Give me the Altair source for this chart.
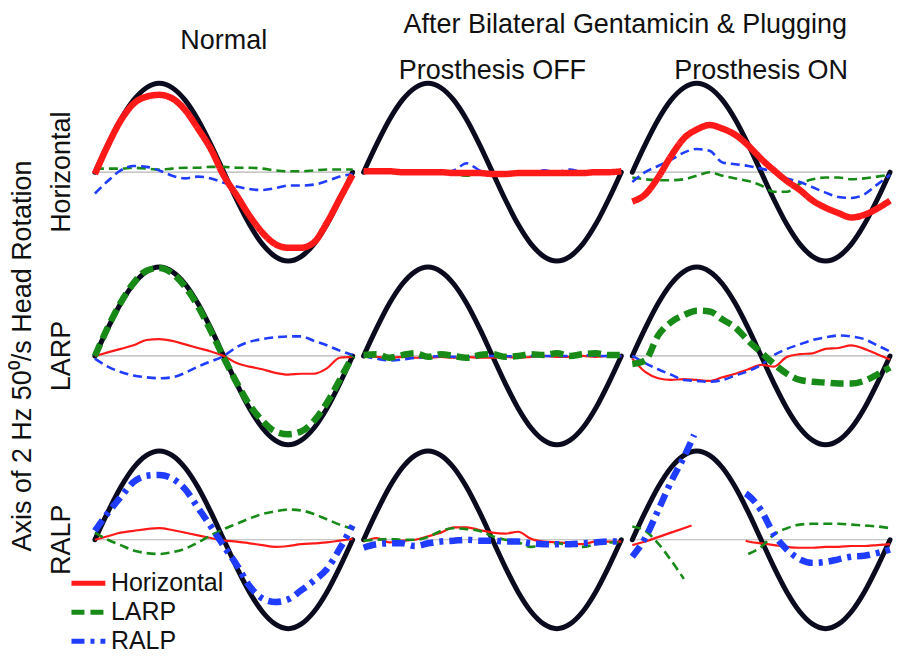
import altair as alt
import pandas as pd

ROWS = ["Horizontal", "LARP", "RALP"]
COLS = ["Normal", "Prosthesis OFF", "Prosthesis ON"]
SERIES = ["Horizontal", "LARP", "RALP"]
COLORS = ["#ff1a1a", "#178a17", "#1f3cff"]

P = [0.0, 0.05, 0.1, 0.15, 0.2, 0.25, 0.3, 0.35, 0.4, 0.45, 0.5,
     0.55, 0.6, 0.65, 0.7, 0.75, 0.8, 0.85, 0.9, 0.95, 1.0]
STIM = [0.0, 0.31, 0.59, 0.81, 0.95, 1.0, 0.95, 0.81, 0.59, 0.31, 0.0,
        -0.31, -0.59, -0.81, -0.95, -1.0, -0.95, -0.81, -0.59, -0.31, 0.0]

# Normal
n_h_red = [-0.02, 0.30, 0.58, 0.77, 0.85, 0.87, 0.83, 0.70, 0.49, 0.26, -0.04,
           -0.26, -0.49, -0.68, -0.81, -0.85, -0.85, -0.79, -0.57, -0.30, -0.03]
n_h_green = [0.04, 0.04, 0.04, 0.05, 0.04, 0.03, 0.04, 0.05, 0.05, 0.06, 0.06,
             0.05, 0.05, 0.04, 0.02, 0.01, 0.01, 0.02, 0.03, 0.03, 0.03]
n_h_blue = [-0.24, -0.10, 0.02, 0.07, 0.06, 0.02, -0.04, -0.07, -0.05, -0.07, -0.12,
            -0.16, -0.19, -0.20, -0.18, -0.15, -0.15, -0.14, -0.10, -0.05, -0.02]
n_l_red = [0.0, 0.04, 0.08, 0.12, 0.18, 0.19, 0.17, 0.13, 0.09, 0.05, 0.0,
           -0.08, -0.12, -0.15, -0.19, -0.21, -0.20, -0.20, -0.14, -0.02, -0.01]
n_l_green = [0.0, 0.32, 0.60, 0.82, 0.96, 0.99, 0.93, 0.78, 0.56, 0.28, -0.02,
             -0.30, -0.55, -0.73, -0.85, -0.88, -0.85, -0.73, -0.53, -0.27, 0.0]
n_l_blue = [-0.03, -0.12, -0.18, -0.22, -0.24, -0.25, -0.24, -0.19, -0.12, -0.06, 0.0,
            0.10, 0.16, 0.19, 0.21, 0.22, 0.22, 0.17, 0.12, 0.06, 0.01]
n_r_red = [0.0, 0.04, 0.08, 0.10, 0.12, 0.13, 0.11, 0.08, 0.05, 0.02, -0.01,
           -0.02, -0.04, -0.06, -0.08, -0.07, -0.05, -0.04, -0.03, -0.01, 0.01]
n_r_green = [0.08, 0.0, -0.06, -0.12, -0.15, -0.16, -0.14, -0.10, -0.03, 0.05, 0.12,
             0.18, 0.24, 0.29, 0.32, 0.34, 0.33, 0.29, 0.23, 0.17, 0.12]
n_r_blue = [0.10, 0.30, 0.48, 0.65, 0.72, 0.73, 0.69, 0.57, 0.36, 0.15, -0.07,
            -0.28, -0.52, -0.66, -0.70, -0.67, -0.57, -0.46, -0.33, -0.10, 0.16]

# Prosthesis OFF
off_h_red = [0.01, 0.01, 0.01, 0.0, 0.0, 0.0, 0.0, -0.01, -0.01, -0.01, -0.02,
             -0.02, -0.01, -0.01, -0.01, -0.01, -0.01, -0.01, 0.0, 0.0, 0.01]
off_h_green = [0.0, 0.01, 0.0, 0.0, 0.0, 0.0, 0.0, -0.02, -0.04, -0.02, -0.02,
               -0.01, -0.01, 0.0, -0.01, -0.02, -0.01, 0.0, -0.01, 0.0, 0.0]
off_h_blue = [0.0, 0.0, 0.0, 0.0, 0.0, 0.0, 0.0, 0.02, 0.10, 0.02, -0.01,
              -0.01, 0.0, 0.0, 0.02, 0.0, 0.03, 0.0, 0.0, 0.01, 0.01]
off_l_red = [0.0, -0.01, -0.02, -0.01, -0.02, -0.02, -0.01, -0.02, -0.01, -0.02, -0.02,
             -0.01, -0.02, -0.01, 0.0, -0.01, -0.01, 0.0, -0.01, 0.0, 0.0]
off_l_green = [0.01, 0.02, -0.02, 0.01, 0.03, -0.01, 0.02, 0.0, -0.02, 0.01, 0.02,
               -0.01, 0.0, 0.02, 0.01, 0.03, 0.0, 0.02, 0.03, 0.01, 0.01]
off_l_blue = [0.0, -0.03, -0.05, -0.04, -0.02, -0.01, 0.0, -0.01, -0.01, 0.0, 0.0,
              0.0, -0.01, 0.0, 0.0, 0.0, 0.0, 0.01, 0.0, 0.0, 0.0]
off_r_red = [-0.02, 0.02, -0.03, -0.01, 0.0, 0.04, 0.08, 0.14, 0.14, 0.11, 0.08,
             0.07, 0.09, 0.01, -0.02, -0.03, -0.04, -0.05, -0.02, -0.02, -0.02]
off_r_green = [-0.01, 0.0, 0.01, 0.0, 0.0, 0.03, 0.10, 0.13, 0.12, 0.10, 0.04,
               0.0, -0.03, -0.08, -0.05, -0.04, -0.06, -0.08, -0.05, -0.03, -0.03]
off_r_blue = [-0.09, -0.05, -0.04, -0.04, -0.07, -0.04, -0.02, -0.01, 0.0, -0.01, -0.01,
              -0.02, -0.02, -0.04, -0.05, -0.05, -0.05, -0.04, -0.03, -0.02, -0.02]

# Prosthesis ON
on_h_red = [-0.33, -0.25, -0.06, 0.18, 0.38, 0.48, 0.53, 0.49, 0.42, 0.30, 0.15,
            0.02, -0.10, -0.20, -0.32, -0.40, -0.46, -0.51, -0.48, -0.41, -0.32]
on_h_green = [-0.06, -0.08, -0.09, -0.09, -0.08, -0.04, 0.0, -0.04, -0.07, -0.10, -0.15,
              -0.22, -0.22, -0.13, -0.08, -0.06, -0.06, -0.08, -0.07, -0.05, -0.03]
on_h_blue = [-0.11, 0.0, 0.07, 0.14, 0.22, 0.26, 0.24, 0.11, 0.09, 0.07, 0.04,
             0.0, -0.07, -0.11, -0.17, -0.23, -0.28, -0.29, -0.25, -0.14, -0.03]
on_l_red = [-0.03, -0.18, -0.25, -0.27, -0.26, -0.27, -0.28, -0.24, -0.20, -0.15, -0.10,
            -0.12, -0.01, 0.02, 0.03, 0.08, 0.09, 0.12, 0.08, 0.02, -0.04]
on_l_green = [-0.09, -0.05, 0.23, 0.38, 0.46, 0.51, 0.50, 0.41, 0.32, 0.17, 0.04,
              -0.09, -0.20, -0.27, -0.29, -0.30, -0.31, -0.31, -0.28, -0.21, -0.13]
on_l_blue = [0.0, -0.08, -0.15, -0.21, -0.27, -0.28, -0.29, -0.27, -0.22, -0.17, -0.10,
             0.01, 0.08, 0.13, 0.18, 0.21, 0.23, 0.22, 0.19, 0.12, 0.05]
# RALP row with prosthesis ON: traces are broken in two pieces
on_r_blue_a_p = [0.0, 0.05, 0.1, 0.15, 0.2, 0.24]
on_r_blue_a = [-0.19, 0.02, 0.33, 0.65, 0.93, 1.18]
on_r_blue_b_p = [0.44, 0.45, 0.5, 0.55, 0.6, 0.65, 0.7, 0.75, 0.8, 0.85, 0.9, 0.95, 1.0]
on_r_blue_b = [0.52, 0.50, 0.33, 0.06, -0.11, -0.22, -0.26, -0.25, -0.22, -0.19, -0.18, -0.15, -0.11]
on_r_red_a_p = [0.0, 0.05, 0.1, 0.15, 0.2, 0.23]
on_r_red_a = [-0.06, -0.02, 0.03, 0.08, 0.13, 0.16]
on_r_red_b_p = [0.44, 0.45, 0.5, 0.55, 0.6, 0.65, 0.7, 0.75, 0.8, 0.85, 0.9, 0.95, 1.0]
on_r_red_b = [-0.01, -0.02, -0.04, -0.06, -0.08, -0.09, -0.09, -0.08, -0.08, -0.07, -0.07, -0.06, -0.05]
on_r_green_a_p = [0.0, 0.05, 0.1, 0.15, 0.2]
on_r_green_a = [0.15, 0.10, -0.04, -0.23, -0.44]
on_r_green_b_p = [0.45, 0.5, 0.55, 0.6, 0.65, 0.7, 0.75, 0.8, 0.85, 0.9, 0.95, 1.0]
on_r_green_b = [-0.16, -0.08, 0.06, 0.13, 0.17, 0.18, 0.18, 0.18, 0.17, 0.16, 0.15, 0.13]

records = []


def add(row, col, series, ps, vs, seg="a"):
    kind = "stim" if series == "Stimulus" else ("thick" if series == row else "thin")
    for p, v in zip(ps, vs):
        records.append({"row": row, "col": col, "series": series, "kind": kind,
                        "seg": seg, "p": p, "v": v})


for r in ROWS:
    for c in COLS:
        add(r, c, "Stimulus", P, STIM)

traces = {
    ("Horizontal", "Normal"): (n_h_red, n_h_green, n_h_blue),
    ("LARP", "Normal"): (n_l_red, n_l_green, n_l_blue),
    ("RALP", "Normal"): (n_r_red, n_r_green, n_r_blue),
    ("Horizontal", "Prosthesis OFF"): (off_h_red, off_h_green, off_h_blue),
    ("LARP", "Prosthesis OFF"): (off_l_red, off_l_green, off_l_blue),
    ("RALP", "Prosthesis OFF"): (off_r_red, off_r_green, off_r_blue),
    ("Horizontal", "Prosthesis ON"): (on_h_red, on_h_green, on_h_blue),
    ("LARP", "Prosthesis ON"): (on_l_red, on_l_green, on_l_blue),
}
for (r, c), (red, green, blue) in traces.items():
    add(r, c, "Horizontal", P, red)
    add(r, c, "LARP", P, green)
    add(r, c, "RALP", P, blue)

add("RALP", "Prosthesis ON", "Horizontal", on_r_red_a_p, on_r_red_a, "a")
add("RALP", "Prosthesis ON", "Horizontal", on_r_red_b_p, on_r_red_b, "b")
add("RALP", "Prosthesis ON", "LARP", on_r_green_a_p, on_r_green_a, "a")
add("RALP", "Prosthesis ON", "LARP", on_r_green_b_p, on_r_green_b, "b")
add("RALP", "Prosthesis ON", "RALP", on_r_blue_a_p, on_r_blue_a, "a")
add("RALP", "Prosthesis ON", "RALP", on_r_blue_b_p, on_r_blue_b, "b")

df = pd.DataFrame(records)

FONT = "Liberation Sans"
FS = 27
X = alt.X("p:Q", scale=alt.Scale(domain=[0, 1], nice=False, zero=False), axis=None)
Y = alt.Y("v:Q", scale=alt.Scale(domain=[-1.034, 1.034], nice=False, zero=False), axis=None)

legend = alt.Legend(title=None, orient="none", legendX=-26, legendY=489,
                    symbolType="stroke", symbolSize=1150, symbolStrokeWidth=5,
                    labelFontSize=25, labelFont=FONT, labelColor="#111111",
                    rowPadding=0, clipHeight=29, labelOffset=3, padding=0)
color_enc = alt.Color("series:N", scale=alt.Scale(domain=SERIES, range=COLORS), legend=legend)

base = alt.Chart()

baseline = base.transform_filter("datum.kind == 'stim'").transform_calculate(
    z="0"
).mark_line(color="#b5b5b5", strokeWidth=1.2).encode(
    x=X, y=alt.Y("z:Q", axis=None), detail="seg:N")

stim = base.transform_filter("datum.kind == 'stim'").mark_line(
    color="#0b0b1f", strokeWidth=5, strokeCap="round", interpolate="monotone"
).encode(x=X, y=Y, detail="seg:N")

thin_solid = base.transform_filter(
    "datum.kind == 'thin' && datum.series == 'Horizontal'"
).mark_line(strokeWidth=2.2, interpolate="monotone").encode(
    x=X, y=Y, color=color_enc, detail="seg:N")

thin_dash = base.transform_filter(
    "datum.kind == 'thin' && datum.series != 'Horizontal'"
).mark_line(strokeWidth=2.6, strokeDash=[9, 5], interpolate="monotone").encode(
    x=X, y=Y, color=color_enc, detail="seg:N")

thick = base.transform_filter("datum.kind == 'thick'").mark_line(
    strokeWidth=6.5, interpolate="monotone", strokeCap="butt"
).encode(
    x=X, y=Y, color=color_enc,
    strokeDash=alt.StrokeDash("series:N",
                              scale=alt.Scale(domain=SERIES,
                                              range=[[1, 0], [13, 6], [13, 6, 4, 6]]),
                              legend=legend),
    detail="seg:N")

layered = alt.layer(baseline, stim, thin_solid, thin_dash, thick, data=df).properties(
    width=258, height=184)

chart = layered.facet(
    row=alt.Row("row:N", sort=ROWS,
                header=alt.Header(title="Axis of 2 Hz 50⁰/s Head Rotation",
                                  titleFont=FONT, titleFontSize=FS, titleFontWeight="normal",
                                  titleColor="#111111", titleOrient="left", titlePadding=0,
                                  labelFont=FONT, labelFontSize=FS, labelColor="#111111",
                                  labelAngle=-90, labelOrient="left", labelPadding=6)),
    column=alt.Column("col:N", sort=COLS,
                      header=alt.Header(title=None,
                                        labelFont=FONT, labelFontSize=FS, labelColor="#111111",
                                        labelOrient="top", labelBaseline="bottom",
                                        labelLineHeight=30, labelPadding=-32,
                                        labelExpr="datum.value == 'Normal' ? ['Normal', ''] : datum.value")),
    spacing={"row": 0, "column": 11},
).properties(
    title=alt.TitleParams("After Bilateral Gentamicin & Plugging", font=FONT, fontSize=FS,
                          fontWeight="normal", color="#111111", anchor="end", dx=-56,
                          offset=-12),
    padding={"left": 0, "top": 3, "right": 0, "bottom": 0},
    bounds="flush",
).configure_view(stroke=None)

chart.save("out.html", embed_options={"renderer": "svg", "actions": False})
